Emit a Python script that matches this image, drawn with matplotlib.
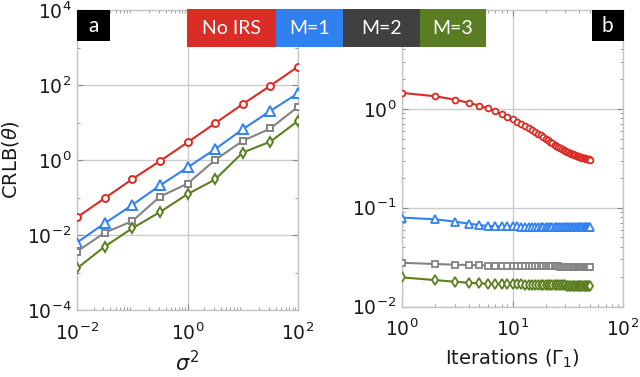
import matplotlib
matplotlib.use("Agg")
import matplotlib.pyplot as plt
from matplotlib.patches import Rectangle
from matplotlib.ticker import FixedLocator, LogLocator, NullFormatter

# ---------------- data ----------------
sigma2 = [0.01, 0.0316, 0.1, 0.316, 1.0, 3.16, 10.0, 31.6, 100.0]
a_noirs = [0.0295, 0.0955, 0.309, 0.933, 2.95, 9.55, 30.9, 95.5, 309.0]
a_m1 = [0.0063, 0.0204, 0.063, 0.209, 0.631, 1.95, 6.61, 20.4, 60.3]
a_m2 = [0.00363, 0.0115, 0.0234, 0.105, 0.234, 1.0, 3.24, 6.92, 26.3]
a_m3 = [0.00129, 0.0049, 0.0151, 0.0407, 0.123, 0.302, 1.58, 3.09, 11.0]

iterations = list(range(1, 51))
b_noirs = [1.45, 1.34, 1.24, 1.15, 1.08, 1.01, 0.94, 0.88, 0.83, 0.78,
           0.74, 0.706, 0.668, 0.638, 0.61, 0.587, 0.561, 0.54, 0.52, 0.50,
           0.481, 0.464, 0.449, 0.435, 0.421, 0.41, 0.401, 0.392, 0.383, 0.375,
           0.369, 0.363, 0.357, 0.352, 0.347, 0.343, 0.339, 0.336, 0.332, 0.329,
           0.326, 0.324, 0.321, 0.318, 0.316, 0.314, 0.312, 0.310, 0.308, 0.307]
b_m1 = [0.0794, 0.0762, 0.0723, 0.0690, 0.0668, 0.0653, 0.0649, 0.0647, 0.0646, 0.0645,
        0.0645, 0.0644, 0.0644, 0.0643, 0.0643, 0.0643, 0.0642, 0.0642, 0.0642, 0.0641,
        0.0641, 0.0641, 0.0641, 0.0640, 0.0640, 0.0640, 0.0640, 0.0640, 0.0639, 0.0639,
        0.0639, 0.0639, 0.0639, 0.0639, 0.0639, 0.0638, 0.0638, 0.0638, 0.0638, 0.0638,
        0.0638, 0.0638, 0.0638, 0.0638, 0.0638, 0.0638, 0.0638, 0.0638, 0.0638, 0.0638]
b_m2 = [0.0277, 0.0269, 0.0265, 0.0263, 0.0261, 0.0259, 0.0258, 0.0257, 0.0257, 0.0256,
        0.0256, 0.0256, 0.0255, 0.0255, 0.0255, 0.0255, 0.0255, 0.0254, 0.0254, 0.0254,
        0.0254, 0.0254, 0.0254, 0.0254, 0.0254, 0.0254, 0.0253, 0.0253, 0.0253, 0.0253,
        0.0253, 0.0253, 0.0253, 0.0253, 0.0253, 0.0253, 0.0253, 0.0253, 0.0253, 0.0253,
        0.0253, 0.0253, 0.0253, 0.0253, 0.0253, 0.0253, 0.0253, 0.0253, 0.0253, 0.0253]
b_m3 = [0.0197, 0.0185, 0.0178, 0.0174, 0.0171, 0.0170, 0.0169, 0.0168, 0.0168, 0.0167,
        0.0167, 0.0167, 0.0166, 0.0166, 0.0166, 0.0166, 0.0165, 0.0165, 0.0165, 0.0165,
        0.0165, 0.0165, 0.0164, 0.0164, 0.0164, 0.0164, 0.0164, 0.0164, 0.0164, 0.0164,
        0.0163, 0.0163, 0.0163, 0.0163, 0.0163, 0.0163, 0.0163, 0.0163, 0.0163, 0.0163,
        0.0163, 0.0162, 0.0162, 0.0162, 0.0162, 0.0162, 0.0162, 0.0162, 0.0162, 0.0162]

legend_labels = ["No IRS", "M=1", "M=2", "M=3"]
panel_labels = ["a", "b"]

# ---------------- style ----------------
RED = "#da2c24"
BLUE = "#3181f2"
GRAY = "#838383"
GREEN = "#5c8020"
BOX_COLORS = ["#d92d26", "#3080f0", "#404040", "#5a7d23"]
SPINE = "#c4c4c4"
TXT = "#1a1a1a"

W, H = 640, 377
fig = plt.figure(figsize=(W / 100, H / 100), dpi=100)


def px_axes(x0, y0, x1, y1):
    return fig.add_axes([x0 / W, 1 - y1 / H, (x1 - x0) / W, (y1 - y0) / H])


def style(ax):
    for s in ax.spines.values():
        s.set_color(SPINE)
        s.set_linewidth(1.0)
    ax.tick_params(which="both", direction="in", top=True, right=True,
                   color="#8a8a8a", labelcolor=TXT, labelsize=13.5)
    ax.tick_params(which="major", length=4, width=0.8)
    ax.tick_params(axis="x", which="major", pad=9)
    ax.tick_params(axis="y", which="major", pad=4)
    ax.tick_params(which="minor", length=2.2, width=0.6)
    ax.grid(True, which="major", color="#cccccc", linewidth=1.0)
    ax.set_axisbelow(True)


# ---------------- panel a ----------------
ax1 = px_axes(77, 10, 298, 310)
ax1.set_xscale("log")
ax1.set_yscale("log")
ax1.set_xlim(1e-2, 1e2)
ax1.set_ylim(1e-4, 1e4)
style(ax1)
ax1.xaxis.set_major_locator(FixedLocator([1e-2, 1e0, 1e2]))
ax1.xaxis.set_minor_locator(LogLocator(base=10, subs=(2, 3, 4, 5, 6, 7, 8, 9), numticks=20))
ax1.yaxis.set_major_locator(FixedLocator([1e-4, 1e-2, 1e0, 1e2, 1e4]))
ax1.yaxis.set_minor_locator(FixedLocator([1e-3, 1e-1, 1e1, 1e3]))
ax1.xaxis.set_minor_formatter(NullFormatter())
ax1.yaxis.set_minor_formatter(NullFormatter())

lw = 1.5
ax1.plot(sigma2, a_noirs, color=RED, lw=lw, marker="o", ms=5, mfc="white", mew=1.4, zorder=5)
ax1.plot(sigma2, a_m1, color=BLUE, lw=lw, marker="^", ms=6.5, mfc="white", mew=1.4, zorder=5)
ax1.plot(sigma2, a_m2, color=GRAY, lw=lw, marker="s", ms=4.8, mfc="white", mew=1.4, zorder=5)
ax1.plot(sigma2, a_m3, color=GREEN, lw=lw, marker="d", ms=5.5, mfc="white", mew=1.4, zorder=5)
ax1.set_ylabel(r"CRLB($\theta$)", fontsize=14, color=TXT, labelpad=4)
ax1.set_xlabel(r"$\sigma^2$", fontsize=15, color=TXT, labelpad=4)

# ---------------- panel b ----------------
ax2 = px_axes(402, 10, 623, 306.5)
ax2.set_xscale("log")
ax2.set_yscale("log")
ax2.set_xlim(1, 100)
ax2.set_ylim(1e-2, 1e1)
style(ax2)
ax2.xaxis.set_major_locator(FixedLocator([1e0, 1e1, 1e2]))
ax2.yaxis.set_major_locator(FixedLocator([1e-2, 1e-1, 1e0]))
ax2.xaxis.set_minor_locator(LogLocator(base=10, subs=(2, 3, 4, 5, 6, 7, 8, 9), numticks=20))
ax2.yaxis.set_minor_locator(LogLocator(base=10, subs=(2, 3, 4, 5, 6, 7, 8, 9), numticks=20))
ax2.xaxis.set_minor_formatter(NullFormatter())
ax2.yaxis.set_minor_formatter(NullFormatter())

ax2.plot(iterations, b_noirs, color=RED, lw=lw, marker="o", ms=4.2, mfc="white", mew=1.3, zorder=5)
ax2.plot(iterations, b_m1, color=BLUE, lw=lw, marker="^", ms=5.5, mfc="white", mew=1.3, zorder=5)
ax2.plot(iterations, b_m2, color=GRAY, lw=lw, marker="s", ms=4, mfc="white", mew=1.3, zorder=5)
ax2.plot(iterations, b_m3, color=GREEN, lw=lw, marker="d", ms=5, mfc="white", mew=1.3, zorder=5)
ax2.set_xlabel(r"Iterations ($\Gamma_1$)", fontsize=14, color=TXT, labelpad=5)

# ---------------- legend boxes ----------------
edges = [187, 276, 343, 420, 486]
for i, lab in enumerate(legend_labels):
    x0, x1 = edges[i], edges[i + 1]
    fig.add_artist(Rectangle((x0 / W, 1 - 46.7 / H), (x1 - x0) / W, 37.4 / H,
                             transform=fig.transFigure, facecolor=BOX_COLORS[i],
                             edgecolor="none", zorder=10))
    fig.text((x0 + x1) / 2 / W, 1 - 28.5 / H, lab, color="white", fontsize=14,
             family="Lato", ha="center", va="center", zorder=11)

# ---------------- panel labels ----------------
for lab, (x0, x1) in zip(panel_labels, [(77, 110), (591.5, 624)]):
    fig.add_artist(Rectangle((x0 / W, 1 - 41 / H), (x1 - x0) / W, 31 / H,
                             transform=fig.transFigure, facecolor="black",
                             edgecolor="none", zorder=10))
    fig.text((x0 + x1) / 2 / W, 1 - 25.5 / H, lab, color="white", fontsize=15,
             family="Lato", ha="center", va="center", zorder=11)

fig.savefig("out.png", dpi=100)
